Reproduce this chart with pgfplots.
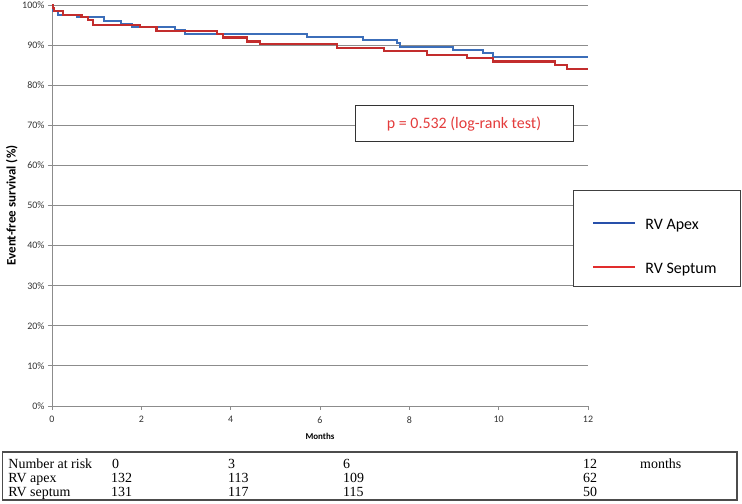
\documentclass[border=0pt]{standalone}
\usepackage{fontspec}
\setmainfont{Carlito}
\newfontfamily\timesf{Liberation Serif}
\usepackage{pgfplots}
\pgfplotsset{compat=1.18}
\definecolor{apex}{RGB}{60,110,185}
\definecolor{sept}{RGB}{195,45,45}
\definecolor{apexL}{RGB}{40,80,170}
\definecolor{septL}{RGB}{225,45,45}
\definecolor{pred}{RGB}{228,60,60}
\definecolor{gridg}{RGB}{140,140,140}
\begin{document}
\begin{tikzpicture}[x=1bp,y=1bp]
\useasboundingbox (0bp,0bp) rectangle (742bp,504bp);
\begin{axis}[
 at={(52bp,98bp)}, anchor=south west,
 scale only axis, width=536bp, height=401bp,
 xmin=0, xmax=12, ymin=0, ymax=100,
 axis x line*=bottom, axis y line*=left,
 axis line style={-, gridg, line width=0.8bp},
 xtick={0,2,...,12}, ytick={0,10,...,100},
 yticklabel={\pgfmathprintnumber{\tick}\%},
 tick style={gridg, line width=0.8bp},
 tick align=outside, major tick length=4bp,
 ymajorgrids, major grid style={gridg, line width=0.8bp},
 /pgf/number format/assume math mode=true,
 ticklabel style={font=\fontsize{10}{12}\selectfont, text=black!80},
 xticklabel style={yshift=-3bp},
 xlabel={Months},
 xlabel style={font=\bfseries\fontsize{9}{11}\selectfont, at={(axis description cs:0.5,-0.0748)}, anchor=center},
 ylabel={Event-free survival (\%)},
 ylabel style={font=\bfseries\fontsize{13}{15}\selectfont, at={(axis description cs:-0.075,0.5)}, anchor=center},
 clip=false,
 legend style={at={(rel axis cs:0.97201,0.53865)}, anchor=north west, draw=black!75, line width=0.9bp, fill=white,
   inner xsep=19bp, inner ysep=5bp, column sep=9bp, row sep=2bp,
   font=\fontsize{16}{19}\selectfont, cells={anchor=base west},
   nodes={inner sep=0pt, text height=34bp, text depth=8bp}},
]
\addplot[const plot, apex, line width=2.1bp,
  legend image code/.code={\draw[color=apexL, draw=apexL, line width=2bp] (0bp,6bp) -- (42bp,6bp);}] coordinates {
(0,100) (0.03,98.6) (0.14,97.6) (0.57,96.9) (1.16,95.9) (1.54,95.2) (1.79,94.6)
(2.75,93.7) (2.98,92.8) (5.71,92.0) (6.96,91.2) (7.72,90.5) (7.79,89.6)
(8.98,88.8) (9.65,88.0) (9.87,87.1) (12,87.1)};
\addlegendentry{\makebox[76bp][l]{RV Apex}}
\addplot[const plot, sept, line width=2.1bp,
  legend image code/.code={\draw[color=septL, draw=septL, line width=2bp] (0bp,6bp) -- (42bp,6bp);}] coordinates {
(0,100) (0.02,99.2) (0.05,98.4) (0.24,97.6) (0.66,96.9) (0.81,96.2) (0.91,95.1)
(1.97,94.6) (2.34,93.6) (3.69,92.7) (3.83,91.9) (4.37,90.9) (4.66,90.2)
(6.38,89.3) (7.43,88.5) (8.39,87.6) (9.29,86.7) (9.87,85.9) (11.26,85.0)
(11.53,84.0) (12,84.0)};
\addlegendentry{\makebox[76bp][l]{RV Septum}}
\end{axis}
\node[draw=black!80, line width=1bp, fill=white, minimum width=218bp, minimum height=36bp,
  inner sep=0pt, text=pred, font=\fontsize{16}{19}\selectfont] at (464bp,380bp) {p = 0.532 (log-rank test)};
\draw[black!70, line width=1.2bp] (2.5bp,4bp) rectangle (737bp,52bp);
\begin{scope}[every node/.style={anchor=base west, inner sep=0pt, font=\timesf\fontsize{14}{16}\selectfont}]
\node at (8.3bp,36bp) {Number at risk};
\node at (112bp,36bp) {0};
\node at (228bp,36bp) {3};
\node at (343bp,36bp) {6};
\node at (583bp,36bp) {12};
\node at (640bp,36bp) {months};
\node at (8.3bp,21.3bp) {RV apex};
\node at (111bp,21.3bp) {132};
\node at (228bp,21.3bp) {113};
\node at (343bp,21.3bp) {109};
\node at (583bp,21.3bp) {62};
\node at (8.3bp,7.7bp) {RV septum};
\node at (111bp,7.7bp) {131};
\node at (228bp,7.7bp) {117};
\node at (343bp,7.7bp) {115};
\node at (583bp,7.7bp) {50};
\end{scope}
\end{tikzpicture}
\end{document}
